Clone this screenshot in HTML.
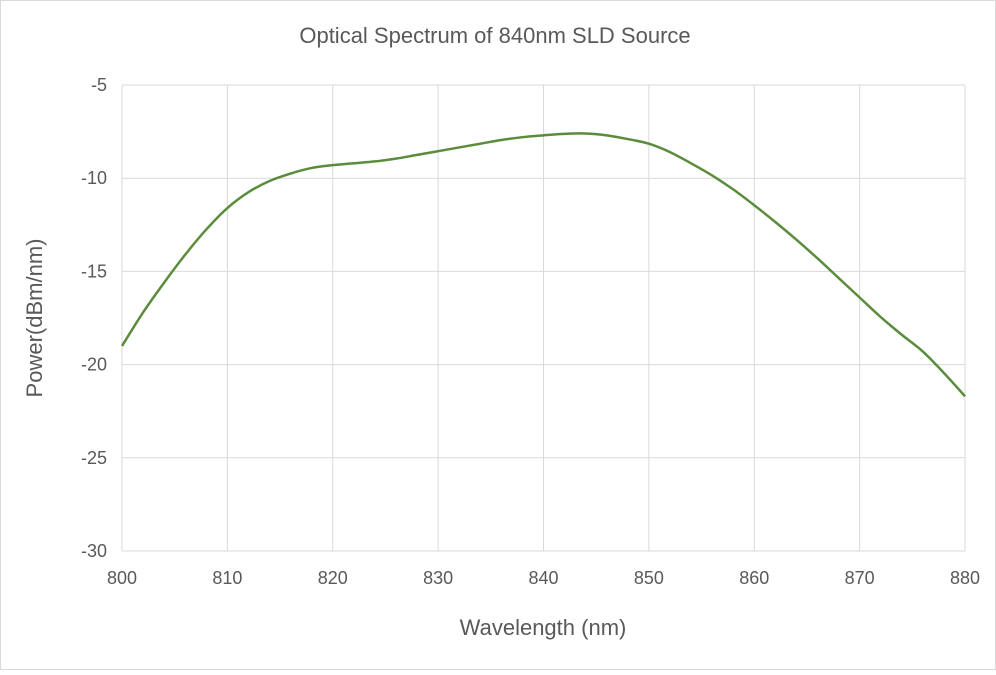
<!DOCTYPE html>
<html><head><meta charset="utf-8"><style>
body{margin:0;background:#fff;font-family:"Liberation Sans",sans-serif}
svg text{font-family:"Liberation Sans",sans-serif;fill:#595959}
</style></head><body>
<svg width="996" height="670" id="c">
<rect x="0.5" y="0.5" width="995" height="669" fill="#fff" stroke="#d9d9d9"/>
<text x="495" y="43" font-size="22" text-anchor="middle">Optical Spectrum of 840nm SLD Source</text>
<g id="grid"></g><g id="ticks"></g>
<text x="543" y="635" font-size="22" text-anchor="middle">Wavelength (nm)</text>
<text transform="translate(42,318) rotate(-90)" font-size="22" text-anchor="middle">Power(dBm/nm)</text>
<path id="line" fill="none" stroke="#5b8c3c" stroke-width="2.5"/>
</svg>
<script>
const wavelengths=[800,802,804,806,808,810,812,814,816,818,820,822,824,826,828,830,832,834,836,838,840,842,844,846,848,850,852,854,856,858,860,862,864,866,868,870,872,874,876,878,880];
const power=[-19,-17.2,-15.6,-14.1,-12.75,-11.6,-10.75,-10.15,-9.75,-9.45,-9.3,-9.2,-9.1,-8.95,-8.75,-8.55,-8.35,-8.15,-7.95,-7.8,-7.7,-7.62,-7.6,-7.7,-7.9,-8.15,-8.6,-9.2,-9.85,-10.6,-11.45,-12.35,-13.3,-14.3,-15.35,-16.4,-17.45,-18.4,-19.3,-20.45,-21.7];
const xTicks=[800,810,820,830,840,850,860,870,880];
const yTicks=[-5,-10,-15,-20,-25,-30];
const X=v=>122+(v-800)/80*843, Y=v=>85+(-5-v)/25*466;
const ns="http://www.w3.org/2000/svg";
const g=document.getElementById('grid'),t=document.getElementById('ticks');
function mk(tag,a,p){const e=document.createElementNS(ns,tag);for(const k in a)e.setAttribute(k,a[k]);p.appendChild(e);return e;}
xTicks.forEach(v=>{
 const l=mk('line',{x1:X(v),x2:X(v),y1:85,y2:551,stroke:'#d9d9d9'},g);
 
 
 const s=mk('text',{x:X(v),y:584,'font-size':18,'text-anchor':'middle'},t);s.textContent=v;
 
 
});
yTicks.forEach(v=>{
 const l=mk('line',{x1:122,x2:965,y1:Y(v),y2:Y(v),stroke:'#d9d9d9'},g);
 
 
 const s=mk('text',{x:107,y:Y(v)+6,'font-size':18,'text-anchor':'end'},t);s.textContent=v;
 
 
});
const P=wavelengths.map((w,i)=>[X(w),Y(power[i])]);
let d='M'+P[0][0]+','+P[0][1];
for(let i=0;i<P.length-1;i++){const p0=P[i-1]||P[i],p1=P[i],p2=P[i+1],p3=P[i+2]||p2;
 d+=` C${p1[0]+(p2[0]-p0[0])/6},${p1[1]+(p2[1]-p0[1])/6} ${p2[0]-(p3[0]-p1[0])/6},${p2[1]-(p3[1]-p1[1])/6} ${p2[0]},${p2[1]}`;}
document.getElementById('line').setAttribute('d',d);
</script>
</body></html>
